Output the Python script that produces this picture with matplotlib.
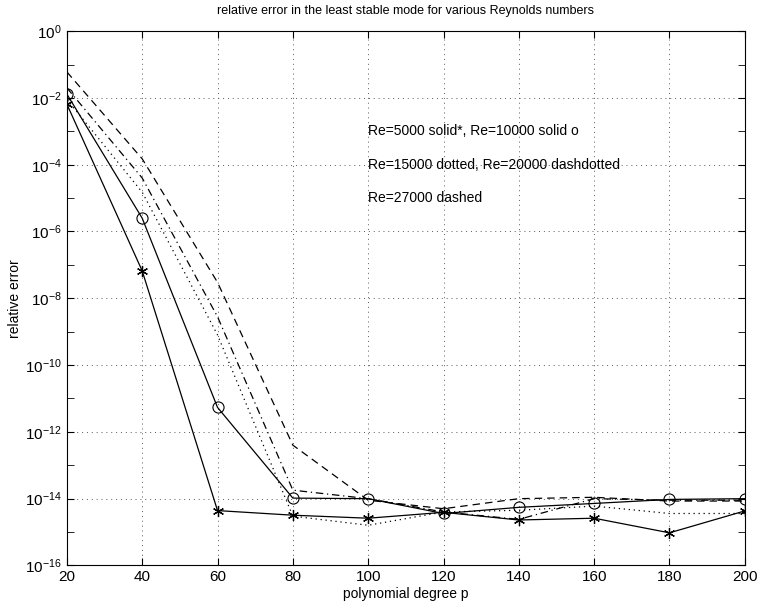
import numpy as np
import matplotlib
matplotlib.use("Agg")
import matplotlib.pyplot as plt
from matplotlib.ticker import FixedLocator, LogFormatterSciNotation, NullFormatter

plt.rcParams.update({
    "font.family": ["Liberation Sans", "DejaVu Sans"],
    "font.size": 10,
    "mathtext.default": "regular",
    "xtick.direction": "in",
    "ytick.direction": "in",
    "xtick.top": True,
    "ytick.right": True,
})

# ── data ────────────────────────────────────────────────────────
p = [20, 40, 60, 80, 100, 120, 140, 160, 180, 200]

re5000  = [6.5e-3, 6.6e-8, 4.4e-15, 3.2e-15, 2.6e-15, 3.9e-15, 2.3e-15, 2.6e-15, 9.5e-16, 4.3e-15]
re10000 = [1.3e-2, 2.5e-6, 5.4e-12, 1.04e-14, 1.0e-14, 3.6e-15, 5.5e-15, 7.2e-15, 9.5e-15, 1.0e-14]
re15000 = [9.0e-3, 1.5e-5, 8.0e-10, 3.0e-15, 1.6e-15, 4.0e-15, 4.5e-15, 6.0e-15, 3.6e-15, 3.6e-15]
re20000 = [2.0e-2, 4.0e-5, 2.8e-9, 1.8e-14, 1.0e-14, 4.0e-15, 2.4e-15, 1.0e-14, 9.0e-15, 9.0e-15]
re27000 = [6.0e-2, 1.5e-4, 3.0e-8, 4.0e-13, 9.0e-15, 5.0e-15, 1.0e-14, 1.1e-14, 8.5e-15, 8.5e-15]

notes = ["Re=5000 solid*, Re=10000 solid o",
         "Re=15000 dotted, Re=20000 dashdotted",
         "Re=27000 dashed"]
note_y = [1e-3, 1e-4, 1e-5]

fig = plt.figure(figsize=(7.6, 6.1), dpi=100)
ax = fig.add_axes([0.088, 0.073, 0.892, 0.876])

lw = 0.9
ax.semilogy(p, re5000, "k-", lw=lw, marker=(6, 2, 0), ms=8, mew=0.9)
ax.semilogy(p, re10000, "k-", lw=lw, marker="o", ms=8, mfc="none", mew=0.8)
ax.semilogy(p, re15000, color="k", ls=(0, (1, 3)), lw=lw)
ax.semilogy(p, re20000, color="k", ls=(0, (6, 3, 1, 3)), lw=lw)
ax.semilogy(p, re27000, color="k", ls=(0, (6, 4)), lw=lw)

for txt, yv in zip(notes, note_y):
    ax.text(100, yv, txt, ha="left", va="center", fontsize=10)

ax.set_xlim(20, 200)
ax.set_ylim(1e-16, 1e0)
ax.set_xticks(range(20, 201, 20))
ax.yaxis.set_major_locator(FixedLocator([10.0 ** k for k in range(-16, 1, 2)]))
ax.yaxis.set_minor_locator(FixedLocator([10.0 ** k for k in range(-15, 0, 2)]))
ax.yaxis.set_major_formatter(LogFormatterSciNotation())
ax.yaxis.set_minor_formatter(NullFormatter())
ax.tick_params(which="both", length=5, labelsize=11)
ax.grid(True, which="major", ls=(0, (1, 4)), color="0.35", lw=0.7)

ax.set_xlabel("polynomial degree p", labelpad=2)
ax.set_ylabel("relative error", labelpad=2)
ax.set_title("relative error in the least stable mode for various Reynolds numbers",
             fontsize=9, pad=12)

fig.savefig("out.png", dpi=100)
